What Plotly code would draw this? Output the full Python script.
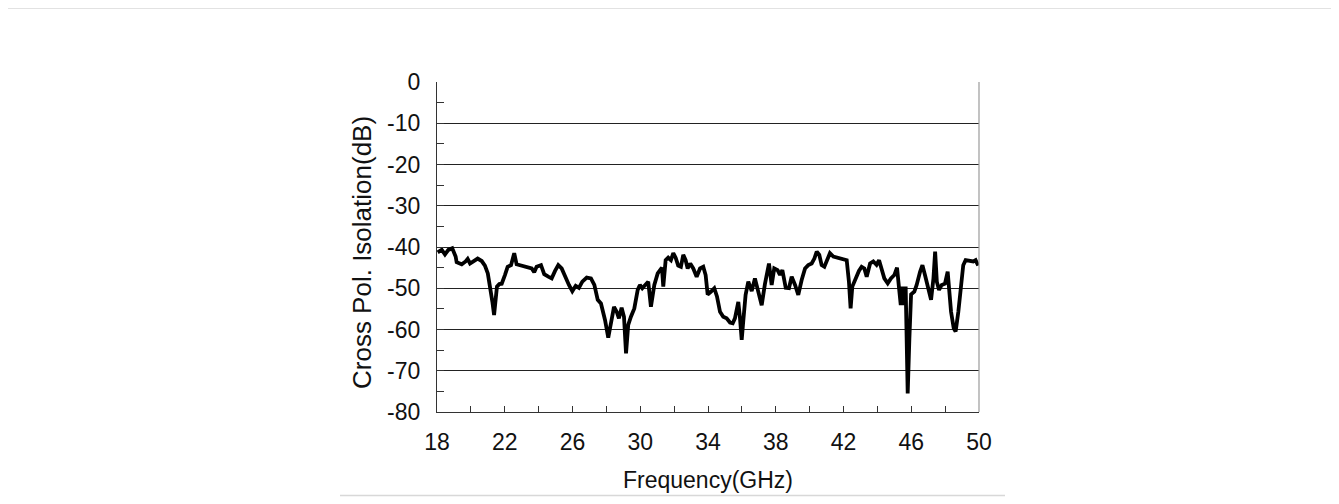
import plotly.graph_objects as go

freq_ghz = [18.04, 18.28, 18.47, 18.67, 18.90, 19.10, 19.16, 19.46, 19.69, 19.81, 19.95, 20.20, 20.40, 20.64, 20.83,
            21.00, 21.13, 21.27, 21.37, 21.47, 21.54, 21.68, 21.82, 22.01, 22.17, 22.37, 22.56, 22.70, 22.96, 23.19,
            23.39, 23.59, 23.74, 23.88, 24.14, 24.33, 24.57, 24.77, 24.97, 25.16, 25.36, 25.56, 25.79, 25.99, 26.19,
            26.38, 26.58, 26.84, 27.09, 27.29, 27.49, 27.68, 27.92, 28.11, 28.25, 28.45, 28.61, 28.74, 28.90, 29.04,
            29.16, 29.29, 29.45, 29.65, 29.85, 29.98, 30.12, 30.28, 30.47, 30.63, 30.83, 31.03, 31.16, 31.28, 31.36,
            31.45, 31.50, 31.65, 31.81, 31.95, 32.09, 32.24, 32.40, 32.54, 32.68, 32.80, 32.95, 33.13, 33.33, 33.53,
            33.72, 33.86, 33.98, 34.18, 34.37, 34.53, 34.71, 34.90, 35.10, 35.30, 35.46, 35.59, 35.79, 35.89, 35.99,
            36.08, 36.22, 36.38, 36.58, 36.77, 36.97, 37.17, 37.36, 37.60, 37.76, 37.91, 38.11, 38.25, 38.39, 38.59,
            38.78, 38.94, 39.14, 39.33, 39.53, 39.73, 39.92, 40.12, 40.28, 40.42, 40.57, 40.71, 40.87, 41.01, 41.20,
            41.40, 41.66, 41.93, 42.19, 42.32, 42.42, 42.52, 42.72, 42.91, 43.07, 43.23, 43.37, 43.57, 43.76, 43.95,
            44.10, 44.25, 44.41, 44.61, 44.80, 45.00, 45.16, 45.28, 45.38, 45.48, 45.58, 45.67, 45.79, 45.89, 45.99,
            46.18, 46.32, 46.52, 46.66, 46.81, 47.01, 47.17, 47.31, 47.41, 47.51, 47.64, 47.80, 47.99, 48.15, 48.23,
            48.35, 48.51, 48.62, 48.78, 48.94, 49.07, 49.21, 49.47, 49.66, 49.80, 49.95]

isolation_db = [-41.3, -40.7, -41.8, -40.7, -40.3, -42.3, -43.7, -44.2, -43.5, -42.9, -44.0, -43.4, -42.8, -43.4, -44.5,
                -46.4, -49.2, -53.3, -56.5, -53.3, -49.6, -49.0, -48.9, -46.8, -44.8, -44.4, -41.5, -44.2, -44.5, -44.8,
                -45.2, -45.2, -46.1, -44.8, -44.4, -46.6, -47.2, -47.6, -45.8, -44.4, -45.2, -47.2, -49.2, -50.7, -49.4,
                -49.9, -48.4, -47.4, -47.6, -49.2, -52.8, -53.7, -57.7, -62.0, -58.9, -54.5, -55.7, -57.3, -54.7, -56.9,
                -65.8, -58.9, -56.9, -54.9, -50.4, -49.2, -50.0, -49.2, -48.4, -54.5, -49.2, -46.4, -45.6, -45.0, -49.6,
                -43.5, -43.2, -42.6, -43.2, -41.5, -42.6, -44.5, -44.8, -41.9, -43.2, -45.2, -44.0, -45.2, -47.2, -45.2,
                -44.8, -46.8, -51.5, -50.8, -50.0, -52.0, -55.7, -56.9, -57.3, -58.3, -58.5, -57.3, -53.3, -57.3, -62.5,
                -58.1, -51.6, -48.4, -50.7, -47.6, -50.6, -54.1, -49.0, -44.0, -49.2, -45.2, -45.6, -46.8, -45.6, -49.9,
                -50.0, -47.2, -49.2, -51.6, -48.0, -45.2, -44.4, -44.0, -42.8, -41.1, -41.9, -44.4, -44.8, -43.2, -41.5,
                -42.3, -42.6, -42.8, -43.2, -48.4, -54.9, -49.6, -47.6, -45.8, -44.8, -45.2, -47.2, -44.0, -43.5, -44.3,
                -43.2, -45.2, -47.6, -48.8, -47.6, -46.8, -45.0, -50.0, -54.1, -49.6, -54.1, -49.6, -75.5, -62.1, -51.5,
                -50.8, -49.2, -46.0, -44.4, -46.8, -50.4, -52.8, -47.6, -41.1, -48.4, -50.4, -49.2, -48.9, -46.0, -50.0,
                -55.7, -59.7, -60.5, -55.7, -49.2, -44.4, -43.2, -43.5, -43.5, -43.2, -44.5]

x_ticks = [18, 22, 26, 30, 34, 38, 42, 46, 50]
y_ticks = [0, -10, -20, -30, -40, -50, -60, -70, -80]

FONT = "Arial, Liberation Sans, sans-serif"

fig = go.Figure()
fig.add_trace(go.Scatter(
    x=freq_ghz, y=isolation_db, mode="lines",
    line=dict(color="#000000", width=3.8),
    showlegend=False, hoverinfo="skip",
))

fig.update_layout(
    width=1339, height=504,
    margin=dict(l=429, r=368, t=74, b=100),
    paper_bgcolor="white", plot_bgcolor="white",
    font=dict(family=FONT, size=23, color="#111111"),
    xaxis=dict(
        range=[18, 50], tickvals=x_ticks, ticktext=[str(v) for v in x_ticks],
        showgrid=False, zeroline=False,
        showline=True, linecolor="#333333", linewidth=1.2,
        ticks="inside", ticklen=6, tickcolor="#333333", tickwidth=1,
        minor=dict(dtick=2, tick0=18, ticks="inside", ticklen=6, tickcolor="#333333", showgrid=False),
        tickfont=dict(size=23, family=FONT),
        ticklabelstandoff=9,
        title=dict(text="Frequency(GHz)", font=dict(size=23, family=FONT), standoff=18),
    ),
    yaxis=dict(
        range=[-80, 0], tickvals=y_ticks, ticktext=[str(v) for v in y_ticks],
        showgrid=True, gridcolor="#222222", gridwidth=1, zeroline=False,
        showline=True, linecolor="#333333", linewidth=1.2,
        ticks="inside", ticklen=7, tickcolor="#333333", tickwidth=1,
        minor=dict(dtick=5, tick0=0, ticks="inside", ticklen=7, tickcolor="#333333", showgrid=False),
        tickfont=dict(size=23, family=FONT),
        ticklabelstandoff=11,
    ),
    annotations=[
        dict(text="Cross Pol. Isolation(dB)", xref="paper", yref="paper",
             x=(362 - 437) / 542, y=(412 - 253) / 330, xanchor="center", yanchor="middle",
             textangle=-90, showarrow=False, font=dict(size=26, family=FONT, color="#111111")),
    ],
    shapes=[
        dict(type="line", xref="x domain", yref="y domain", x0=1, x1=1, y0=0, y1=1,
             line=dict(color="#9a9a9a", width=1.2)),
        dict(type="line", xref="paper", yref="paper", x0=-437/542, x1=(1339-437)/542,
             y0=1 + 74/330, y1=1 + 74/330, line=dict(color="#d8d8d8", width=1.5)),
        dict(type="line", xref="paper", yref="paper", x0=-435/542, x1=-435/542,
             y0=-92/330, y1=1 + 74/330, line=dict(color="#d8d8d8", width=1)),
        dict(type="line", xref="paper", yref="paper", x0=-97/542, x1=568/542,
             y0=-83.5/330, y1=-83.5/330, line=dict(color="#d8d8d8", width=1.5)),
    ],
)

fig.write_html("out.html")
